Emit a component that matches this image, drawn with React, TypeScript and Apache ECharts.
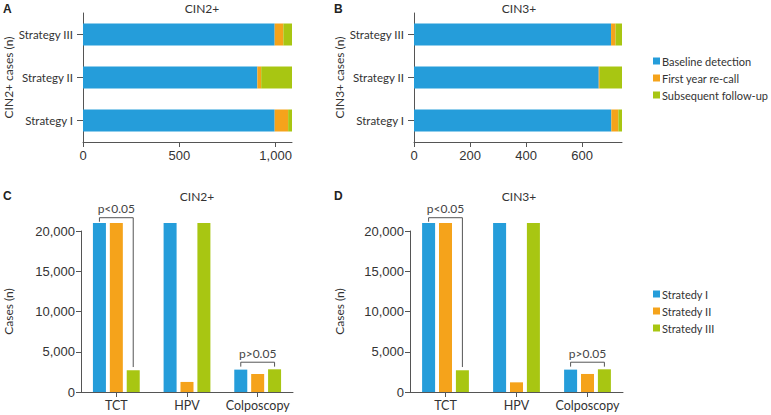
import React, { useEffect, useRef } from "react";
import * as echarts from "echarts";

// ---------- data ----------
const strategyCats = ["Strategy I", "Strategy II", "Strategy III"];
const stackNames = ["Baseline detection", "First year re-call", "Subsequent follow-up"];

const cin2Baseline = [995, 905, 995];
const cin2FirstYear = [70, 20, 45];
const cin2Subsequent = [20, 160, 45];
const cin2AxisMax = 1085;
const cin2Ticks = [0, 500, 1000];

const cin3Baseline = [704, 659, 703];
const cin3FirstYear = [25, 4, 16];
const cin3Subsequent = [13, 79, 23];
const cin3AxisMax = 742;
const cin3Ticks = [0, 200, 400, 600];

const methods = ["TCT", "HPV", "Colposcopy"];
const strategyNames = ["Stratedy I", "Stratedy II", "Stratedy III"];
const cin2Strat1 = [21000, 21000, 2780];
const cin2Strat2 = [21000, 1250, 2240];
const cin2Strat3 = [2700, 21000, 2820];
const cin3Strat1 = [21000, 21000, 2780];
const cin3Strat2 = [21000, 1200, 2240];
const cin3Strat3 = [2700, 21000, 2820];
const casesTicks = [0, 5000, 10000, 15000, 20000];
const casesAxisMax = 20000;

// bracket: [category index, bracket level, left end, right end]
const bracketData = [
  [0, 21650, 21150, 3100],
  [2, 3700, 3150, 3150],
];
const bracketLabels = ["p<0.05", "p>0.05"];

// ---------- style ----------
const BLUE = "#259DDA";
const ORANGE = "#F5A31B";
const GREEN = "#A8C612";
const COLORS = [BLUE, ORANGE, GREEN];
const AXIS = "#555";
const TEXT = "#333";
const LATO = "Lato";
const ARIAL = "Liberation Sans";
const BAR_W = 13;
const BAR_GAP = 0.3;

const fmt = (v: number) => v.toLocaleString("en-US");

export default function App() {
  const ref = useRef<HTMLDivElement>(null);

  useEffect(() => {
    if (!ref.current) return;
    const chart = echarts.init(ref.current, null, { renderer: "svg" });

    const grids = [
      { left: 83, top: 13, width: 209, height: 129 },
      { left: 414, top: 13, width: 208, height: 129 },
      { left: 81, top: 231, width: 212, height: 161 },
      { left: 410, top: 231, width: 213, height: 161 },
    ];

    const valueXAxis = (gi: number, max: number, ticks: number[]) => ({
      type: "value",
      gridIndex: gi,
      min: 0,
      max,
      axisLine: { show: true, lineStyle: { color: AXIS, width: 1 } },
      axisTick: { show: true, length: 5, lineStyle: { color: AXIS }, customValues: ticks },
      axisLabel: {
        customValues: ticks,
        formatter: (v: number) => fmt(v),
        fontFamily: ARIAL,
        fontSize: 13,
        color: TEXT,
        margin: 7,
      },
      splitLine: { show: false },
    });

    const catYAxis = (gi: number, name: string) => ({
      type: "category",
      gridIndex: gi,
      data: strategyCats,
      name,
      nameLocation: "middle",
      nameGap: 69,
      nameRotate: 90,
      nameTextStyle: { fontFamily: LATO, fontSize: 12, color: TEXT },
      axisLine: { show: true, lineStyle: { color: AXIS, width: 1 } },
      axisTick: { show: true, alignWithLabel: true, length: 6, lineStyle: { color: AXIS } },
      axisLabel: { interval: 0, fontFamily: LATO, fontSize: 11.5, color: TEXT, margin: 10 },
    });

    const catXAxis = (gi: number) => ({
      type: "category",
      gridIndex: gi,
      data: methods,
      axisLine: { show: true, lineStyle: { color: AXIS, width: 1 } },
      axisTick: { show: true, alignWithLabel: true, length: 5, lineStyle: { color: AXIS } },
      axisLabel: { interval: 0, fontFamily: LATO, fontSize: 12.5, color: TEXT, margin: 7 },
    });

    const valueYAxis = (gi: number, gap: number) => ({
      type: "value",
      gridIndex: gi,
      min: 0,
      max: casesAxisMax,
      interval: 5000,
      name: "Cases (n)",
      nameLocation: "middle",
      nameGap: gap,
      nameRotate: 90,
      nameTextStyle: { fontFamily: LATO, fontSize: 12, color: TEXT },
      axisLine: { show: true, lineStyle: { color: AXIS, width: 1 } },
      axisTick: { show: true, length: 5, lineStyle: { color: AXIS }, customValues: casesTicks },
      axisLabel: {
        customValues: casesTicks,
        formatter: (v: number) => fmt(v),
        fontFamily: ARIAL,
        fontSize: 13,
        color: TEXT,
        margin: 6,
      },
      splitLine: { show: false },
    });

    const stackSeries = (axisIdx: number, stack: string, arrays: number[][]) =>
      arrays.map((d, i) => ({
        type: "bar",
        name: stackNames[i],
        xAxisIndex: axisIdx,
        yAxisIndex: axisIdx,
        stack,
        barWidth: 22,
        data: d,
        itemStyle: { color: COLORS[i] },
      }));

    const groupSeries = (axisIdx: number, arrays: number[][]) =>
      arrays.map((d, i) => ({
        type: "bar",
        name: strategyNames[i],
        xAxisIndex: axisIdx,
        yAxisIndex: axisIdx,
        barWidth: BAR_W,
        barGap: `${BAR_GAP * 100}%`,
        clip: false,
        data: d,
        itemStyle: { color: COLORS[i] },
      }));

    const bracketSeries = (axisIdx: number) => ({
      type: "custom",
      xAxisIndex: axisIdx,
      yAxisIndex: axisIdx,
      clip: false,
      silent: true,
      encode: { x: 0, y: 1 },
      data: bracketData,
      renderItem: (params: any, api: any) => {
        const cat = api.value(0);
        const lvl = api.coord([cat, api.value(1)]);
        const l = api.coord([cat, api.value(2)]);
        const r = api.coord([cat, api.value(3)]);
        const step = BAR_W * (1 + BAR_GAP);
        const xL = lvl[0] - step;
        const xR = lvl[0] + step;
        return {
          type: "group",
          children: [
            {
              type: "polyline",
              shape: { points: [[xL, l[1]], [xL, lvl[1]], [xR, lvl[1]], [xR, r[1]]] },
              style: { stroke: AXIS, lineWidth: 1, fill: null },
            },
            {
              type: "text",
              x: (xL + xR) / 2,
              y: lvl[1] - 3,
              style: {
                text: bracketLabels[params.dataIndex],
                align: "center",
                verticalAlign: "bottom",
                fontFamily: LATO,
                fontSize: 12,
                fill: "#444",
              },
            },
          ],
        };
      },
    });

    const gText = (text: string, x: number, y: number, opts: any = {}) => ({
      type: "text",
      x,
      y,
      style: {
        text,
        align: opts.align || "center",
        verticalAlign: "middle",
        fontFamily: opts.font || LATO,
        fontSize: opts.size || 12,
        fontWeight: opts.weight || "normal",
        fill: opts.fill || TEXT,
      },
    });

    const legendBase = {
      orient: "vertical",
      left: 653,
      padding: 0,
      itemWidth: 7,
      itemHeight: 7,
      itemGap: 5,
      icon: "rect",
      selectedMode: false,
      textStyle: { fontFamily: LATO, fontSize: 11, color: TEXT, lineHeight: 12, padding: [0, 0, 0, -3] },
    };

    chart.setOption({
      animation: false,
      grid: grids,
      xAxis: [
        valueXAxis(0, cin2AxisMax, cin2Ticks),
        valueXAxis(1, cin3AxisMax, cin3Ticks),
        catXAxis(2),
        catXAxis(3),
      ],
      yAxis: [
        catYAxis(0, "CIN2+ cases (n)"),
        catYAxis(1, "CIN3+ cases (n)"),
        valueYAxis(2, 67),
        valueYAxis(3, 65),
      ],
      legend: [
        { ...legendBase, top: 55, data: stackNames },
        { ...legendBase, top: 288, data: strategyNames },
      ],
      graphic: [
        gText("A", 3, 9, { align: "left", weight: "bold", font: ARIAL, size: 12, fill: "#222" }),
        gText("B", 334, 9, { align: "left", weight: "bold", font: ARIAL, size: 12, fill: "#222" }),
        gText("C", 3, 196, { align: "left", weight: "bold", font: ARIAL, size: 12, fill: "#222" }),
        gText("D", 334, 196, { align: "left", weight: "bold", font: ARIAL, size: 12, fill: "#222" }),
        gText("CIN2+", 202, 8),
        gText("CIN3+", 519, 8),
        gText("CIN2+", 197, 196),
        gText("CIN3+", 519, 196),
      ],
      series: [
        ...stackSeries(0, "cin2", [cin2Baseline, cin2FirstYear, cin2Subsequent]),
        ...stackSeries(1, "cin3", [cin3Baseline, cin3FirstYear, cin3Subsequent]),
        ...groupSeries(2, [cin2Strat1, cin2Strat2, cin2Strat3]),
        ...groupSeries(3, [cin3Strat1, cin3Strat2, cin3Strat3]),
        bracketSeries(2),
        bracketSeries(3),
      ],
    });

    return () => chart.dispose();
  }, []);

  return (
    <div
      ref={ref}
      style={{ position: "absolute", left: 0, top: 0, width: 771, height: 415, background: "#fff" }}
    />
  );
}
